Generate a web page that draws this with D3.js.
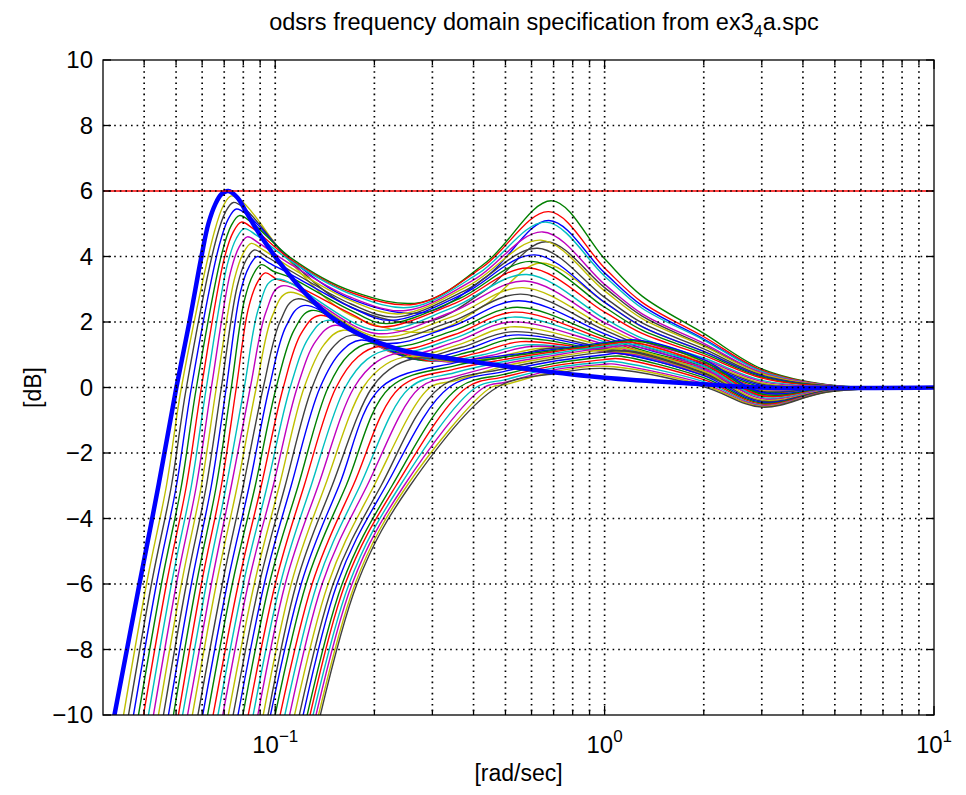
<!DOCTYPE html>
<html><head><meta charset="utf-8">
<script src="https://cdn.jsdelivr.net/npm/d3@7"></script>
<style>
body{margin:0;background:#fff;}
text{font-family:"Liberation Sans",Arial,Helvetica,sans-serif;fill:#000;}
</style>
</head><body>
<svg id="chart" width="966" height="795"></svg>
<script>
// ---------------- data ----------------
const titleMain = "odsrs frequency domain specification from ex3";
const titleSub = "4";
const titleTail = "a.spc";
const xLabel = "[rad/sec]";
const yLabel = "[dB]";
const xDomain = [0.03, 10];
const yDomain = [-10, 10];
const yTicks = [-10, -8, -6, -4, -2, 0, 2, 4, 6, 8, 10];
const xMajorTicks = [0.1, 1, 10];
const xMajorExp = ["\u22121", "0", "1"];
const xMinorTicks = [0.04,0.05,0.06,0.07,0.08,0.09,0.2,0.3,0.4,0.5,0.6,0.7,0.8,0.9,2,3,4,5,6,7,8,9];
const specLimit = 6;
const colorOrder = ["#0000ff","#008000","#ff0000","#00bfbf","#bf00bf","#bfbf00","#404040"];

// thick blue curve [rad/s, dB]
const thickCurve = [[0.0273,-14],[0.0325,-10],[0.0387,-6],[0.0442,-3],[0.0501,0],[0.05488,2],[0.0597,4],[0.06266,5.0],[0.0658,5.6],[0.06861,5.9],[0.072,6],[0.07671,5.8],[0.08225,5.3],[0.09069,4.6],[0.1043,3.75],[0.1241,2.85],[0.1478,2.15],[0.1822,1.6],[0.2409,1.15],[0.3184,0.93],[0.597,0.55],[1.0,0.3],[2.0,0.1],[3.0,0.0],[10,0]];

// curves with a low-frequency peak and a large mid bump
const groupA = [
[[0.0297,-14],[0.04066,-6],[0.04674,-3],[0.0519,0],[0.06533,4.75],[0.06957,5.55],[0.07357,5.85],[0.07999,5.65],[0.1118,3.8],[0.1699,2.2],[0.297,1.7],[0.436,2.54],[0.64,3.8],[1.0,2.6],[1.3,1.85],[2.0,1.1],[3.0,0.38],[4.8,0.05],[10,0]],
[[0.03076,-14],[0.04209,-6],[0.0484,-3],[0.05374,0],[0.06626,4.55],[0.07055,5.35],[0.0746,5.65],[0.08111,5.45],[0.1118,3.85],[0.1699,2.45],[0.2868,2.0],[0.436,2.98],[0.6628,4.45],[1.0,3.05],[1.3,2.18],[2.0,1.29],[3.0,0.44],[4.8,0.06],[10,0]],
[[0.03184,-14],[0.04359,-6],[0.05012,-3],[0.05565,0],[0.06766,4.35],[0.07204,5.15],[0.07618,5.45],[0.08283,5.25],[0.1118,3.9],[0.1699,2.7],[0.2868,2.3],[0.4421,3.42],[0.6768,5.1],[1.0,3.5],[1.3,2.5],[2.0,1.48],[3.0,0.51],[4.8,0.07],[10,0]],
[[0.03298,-14],[0.04513,-6],[0.0519,-3],[0.05763,0],[0.06909,4.15],[0.07357,4.95],[0.07779,5.25],[0.08458,5.05],[0.1118,3.95],[0.1699,2.95],[0.277,2.6],[0.4391,3.84],[0.6911,5.7],[1.0,3.93],[1.3,2.79],[2.0,1.65],[3.0,0.57],[4.8,0.08],[10,0]],
[[0.03415,-14],[0.04674,-6],[0.05374,-3],[0.05967,0],[0.07006,3.95],[0.0746,4.75],[0.07888,5.05],[0.08577,4.85],[0.1118,3.9],[0.1699,2.9],[0.2674,2.55],[0.4269,3.68],[0.6768,5.37],[1.0,3.65],[1.3,2.6],[2.0,1.55],[3.0,0.53],[4.8,0.07],[10,0]],
[[0.03535,-14],[0.0484,-6],[0.05565,-3],[0.06179,0],[0.07154,3.75],[0.07618,4.55],[0.08055,4.85],[0.08758,4.65],[0.1118,3.85],[0.1699,2.85],[0.2583,2.45],[0.4152,3.49],[0.6628,5.05],[1.0,3.4],[1.3,2.42],[2.0,1.45],[3.0,0.49],[4.8,0.06],[10,0]],
[[0.03661,-14],[0.05012,-6],[0.05763,-3],[0.06398,0],[0.07306,3.5],[0.07779,4.3],[0.08225,4.6],[0.08943,4.4],[0.1118,3.75],[0.1699,2.75],[0.2494,2.35],[0.4038,3.31],[0.649,4.75],[1.0,3.15],[1.3,2.25],[2.0,1.35],[3.0,0.45],[4.8,0.06],[10,0]],
[[0.03791,-14],[0.0519,-6],[0.05967,-3],[0.06626,0],[0.07513,3.3],[0.07999,4.1],[0.08458,4.4],[0.09196,4.2],[0.1118,3.65],[0.1699,2.65],[0.2409,2.25],[0.3926,3.15],[0.64,4.5],[1.0,2.95],[1.3,2.1],[2.0,1.26],[3.0,0.42],[4.8,0.05],[10,0]],
[[0.03926,-14],[0.05374,-6],[0.06179,-3],[0.06861,0],[0.07671,3.1],[0.08168,3.9],[0.08637,4.2],[0.09391,4.0],[0.1118,3.55],[0.1699,2.55],[0.2326,2.15],[0.3818,2.99],[0.6268,4.25],[1.0,2.75],[1.3,1.97],[2.0,1.18],[3.0,0.38],[4.8,0.05],[10,0]],
[[0.04066,-14],[0.05565,-6],[0.06398,-3],[0.07104,0],[0.07833,2.9],[0.08341,3.7],[0.08819,4.0],[0.0959,3.8],[0.1118,3.45],[0.1699,2.45],[0.2246,2.05],[0.3713,2.85],[0.6138,4.05],[1.0,2.6],[1.3,1.86],[2.0,1.1],[3.0,0.35],[4.8,0.04],[10,0]],
[[0.04209,-14],[0.05763,-6],[0.06626,-3],[0.07357,0],[0.08055,2.65],[0.08577,3.45],[0.09069,3.75],[0.09861,3.55],[0.1118,3.35],[0.1699,2.35],[0.2169,1.95],[0.3611,2.71],[0.6011,3.85],[1.0,2.45],[1.3,1.75],[2.0,1.04],[3.0,0.32],[4.8,0.04],[10,0]],
[[0.04359,-14],[0.05967,-6],[0.06861,-3],[0.07618,0],[0.08283,2.4],[0.08819,3.2],[0.09326,3.5],[0.1014,3.3],[0.1118,3.18],[0.1699,2.25],[0.2095,1.85],[0.3511,2.57],[0.5886,3.65],[1.0,2.3],[1.3,1.65],[2.0,0.98],[3.0,0.29],[4.8,0.03],[10,0]]
];

// curves with a rounded low peak and a smaller mid bump
const groupB = [
[[0.0445,-14],[0.06179,-6],[0.07104,-3],[0.08055,0],[0.08943,2.48],[0.0993,3.3],[0.2023,1.75],[0.3439,2.43],[0.5804,3.45],[1.0,2.1],[1.3,1.5],[2.0,0.9],[3.0,0.22],[4.8,0.02],[10,0]],
[[0.04609,-14],[0.06398,-6],[0.07357,-3],[0.08399,0],[0.09391,2.33],[0.1043,3.1],[0.2023,1.65],[0.3415,2.29],[0.5724,3.25],[1.0,1.98],[1.3,1.42],[2.0,0.85],[3.0,0.18],[4.8,0.02],[10,0]],
[[0.04773,-14],[0.06626,-6],[0.07671,-3],[0.08758,0],[0.09792,2.18],[0.1095,2.9],[0.2051,1.55],[0.3415,2.15],[0.5644,3.05],[1.0,1.86],[1.3,1.34],[2.0,0.8],[3.0,0.14],[4.8,0.01],[10,0]],
[[0.04943,-14],[0.06909,-6],[0.07999,-3],[0.09196,0],[0.1036,2.03],[0.1158,2.7],[0.2095,1.45],[0.3415,2.01],[0.5566,2.85],[1.0,1.75],[1.3,1.27],[2.0,0.75],[3.0,0.1],[4.8,0],[10,0]],
[[0.05118,-14],[0.07154,-6],[0.08341,-3],[0.0959,0],[0.108,1.88],[0.1216,2.5],[0.2139,1.35],[0.3439,1.87],[0.549,2.65],[1.0,1.64],[1.3,1.2],[2.0,0.7],[3.0,0.06],[4.8,0],[10,0]],
[[0.053,-14],[0.07408,-6],[0.08697,-3],[0.1007,0],[0.1142,1.76],[0.1285,2.35],[0.22,1.25],[0.3463,1.73],[0.5414,2.45],[1.0,1.54],[1.3,1.14],[2.0,0.65],[3.0,0.02],[4.8,0],[10,0]],
[[0.05488,-14],[0.07725,-6],[0.09069,-3],[0.1058,0],[0.1199,1.65],[0.1359,2.2],[0.2262,1.15],[0.3487,1.61],[0.5338,2.3],[1.0,1.46],[1.3,1.09],[2.0,0.6],[3.0,-0.02],[4.8,-0.01],[10,0]],
[[0.05683,-14],[0.07999,-6],[0.09457,-3],[0.111,0],[0.1267,1.54],[0.1437,2.05],[0.2326,1.08],[0.3511,1.51],[0.5264,2.15],[1.0,1.39],[1.3,1.05],[2.0,0.56],[3.0,-0.05],[4.8,-0.01],[10,0]],
[[0.05884,-14],[0.08283,-6],[0.09861,-3],[0.1166,0],[0.1331,1.43],[0.1519,1.9],[0.2409,1.0],[0.3536,1.4],[0.5191,2.0],[1.0,1.32],[1.3,1.01],[2.0,0.52],[3.0,-0.08],[4.8,-0.02],[10,0]],
[[0.06093,-14],[0.08637,-6],[0.1029,-3],[0.1224,0],[0.1407,1.31],[0.1607,1.75],[0.2494,0.95],[0.3611,1.31],[0.5191,1.85],[1.0,1.26],[1.3,0.98],[2.0,0.48],[3.0,-0.1],[4.8,-0.02],[10,0]],
[[0.06309,-14],[0.08943,-6],[0.1072,-3],[0.1294,0],[0.1488,1.2],[0.1711,1.6],[0.2583,0.9],[0.3662,1.22],[0.5191,1.7],[1.0,1.2],[1.3,0.95],[2.0,0.44],[3.0,-0.12],[4.8,-0.02],[10,0]],
[[0.06533,-14],[0.09261,-6],[0.1118,-3],[0.1368,0],[0.1585,1.09],[0.1822,1.45],[0.2693,0.85],[0.3765,1.15],[0.5264,1.6],[1.0,1.16],[1.3,0.93],[2.0,0.41],[3.0,-0.14],[4.8,-0.03],[10,0]],
[[0.06766,-14],[0.0959,-6],[0.1174,-3],[0.1447,0],[0.1675,1.01],[0.194,1.35],[0.2809,0.82],[0.3898,1.09],[0.5376,1.5],[1.0,1.12],[1.3,0.92],[2.0,0.39],[3.0,-0.16],[4.8,-0.03],[10,0]],
[[0.07006,-14],[0.1,-6],[0.1224,-3],[0.153,0],[0.1784,0.94],[0.2066,1.25],[0.297,0.8],[0.4066,1.04],[0.5566,1.4],[1.0,1.1],[1.3,0.92],[2.0,0.38],[3.0,-0.18],[4.8,-0.03],[10,0]],
[[0.07254,-14],[0.1036,-6],[0.1285,-3],[0.163,0],[0.19,0.86],[0.2215,1.15],[0.314,0.8],[0.4269,1.0],[0.5764,1.3],[1.0,1.1],[1.3,0.94],[2.0,0.38],[3.0,-0.2],[4.8,-0.03],[10,0]],
[[0.07513,-14],[0.1072,-6],[0.135,-3],[0.1735,0],[0.2037,0.79],[0.2376,1.05],[0.3343,0.78],[0.4484,0.97],[0.5969,1.25],[1.0,1.1],[1.3,0.97],[2.0,0.4],[3.0,-0.22],[4.8,-0.04],[10,0]],
[[0.07779,-14],[0.1118,-6],[0.1417,-3],[0.1848,0],[0.2169,0.71],[0.2547,0.95],[0.3561,0.78],[0.4774,0.95],[0.64,1.2],[1.0,1.12],[1.3,1.0],[2.0,0.42],[3.0,-0.24],[4.8,-0.04],[10,0]],
[[0.08055,-14],[0.1158,-6],[0.1488,-3],[0.1968,0],[0.2326,0.68],[0.2732,0.9],[0.3791,0.78],[0.5119,0.95],[0.6863,1.2],[1.0,1.15],[1.3,1.05],[2.0,0.45],[3.0,-0.26],[4.8,-0.04],[10,0]]
];

// slowly rising curves with a broad hump near 1 rad/s and a dip near 3 rad/s
const groupC = [
[[0.08055,-14],[0.1199,-6],[0.1562,-3],[0.2095,0],[0.35,0.75],[0.5,0.98],[0.7,1.16],[1.0,1.37],[1.25,1.45],[2.0,0.85],[3.0,-0.15],[4.8,-0.03],[10,0]],
[[0.08341,-14],[0.1241,-6],[0.1641,-3],[0.223,0],[0.35,0.66],[0.5,0.93],[0.7,1.13],[1.0,1.34],[1.25,1.42],[2.0,0.8],[3.0,-0.2],[4.8,-0.04],[10,0]],
[[0.08577,-14],[0.1294,-6],[0.1723,-3],[0.2392,0],[0.35,0.56],[0.5,0.86],[0.7,1.09],[1.0,1.3],[1.2,1.38],[2.0,0.72],[3.0,-0.25],[4.8,-0.05],[10,0]],
[[0.08881,-14],[0.134,-6],[0.1809,-3],[0.2565,0],[0.35,0.45],[0.5,0.8],[0.7,1.04],[1.0,1.26],[1.2,1.33],[2.0,0.65],[3.0,-0.3],[4.8,-0.06],[10,0]],
[[0.09196,-14],[0.1388,-6],[0.19,-3],[0.2751,0],[0.35,0.33],[0.5,0.73],[0.7,0.98],[1.0,1.21],[1.2,1.27],[2.0,0.58],[3.0,-0.34],[4.8,-0.07],[10,0]],
[[0.09457,-14],[0.1447,-6],[0.1995,-3],[0.2949,0],[0.35,0.2],[0.5,0.66],[0.7,0.93],[1.0,1.15],[1.15,1.2],[2.0,0.5],[3.0,-0.38],[4.8,-0.08],[10,0]],
[[0.09792,-14],[0.1499,-6],[0.2095,-3],[0.3162,0],[0.5,0.58],[0.7,0.87],[1.0,1.08],[1.15,1.12],[2.0,0.43],[3.0,-0.42],[4.8,-0.09],[10,0]],
[[0.1007,-14],[0.1541,-6],[0.2169,-3],[0.3367,0],[0.5,0.5],[0.7,0.8],[1.0,1.0],[1.1,1.04],[2.0,0.36],[3.0,-0.45],[4.8,-0.1],[10,0]],
[[0.1029,-14],[0.1596,-6],[0.2262,-3],[0.3611,0],[0.5,0.41],[0.7,0.73],[1.0,0.93],[1.1,0.96],[2.0,0.3],[3.0,-0.48],[4.8,-0.1],[10,0]],
[[0.105,-14],[0.163,-6],[0.2326,-3],[0.3818,0],[0.5,0.33],[0.7,0.66],[1.0,0.85],[1.1,0.88],[2.0,0.24],[3.0,-0.51],[4.8,-0.11],[10,0]],
[[0.1065,-14],[0.1675,-6],[0.2392,-3],[0.4066,0],[0.5,0.24],[0.7,0.6],[1.0,0.78],[1.05,0.8],[2.0,0.18],[3.0,-0.54],[4.8,-0.12],[10,0]],
[[0.1088,-14],[0.1711,-6],[0.246,-3],[0.4299,0],[0.5,0.16],[0.7,0.54],[1.0,0.71],[1.05,0.72],[2.0,0.12],[3.0,-0.56],[4.8,-0.12],[10,0]],
[[0.1103,-14],[0.1747,-6],[0.2511,-3],[0.4515,0],[0.5,0.09],[0.7,0.48],[1.0,0.65],[2.0,0.07],[3.0,-0.58],[4.8,-0.13],[10,0]],
[[0.1118,-14],[0.1771,-6],[0.2565,-3],[0.4708,0],[0.7,0.42],[1.0,0.58],[2.0,0.02],[3.0,-0.6],[4.8,-0.13],[10,0]]
];

// ---------------- drawing ----------------
const L = 103, R = 934, T = 60, B = 715;
const svg = d3.select("#chart");
const x = d3.scaleLog().domain(xDomain).range([L, R]);
const y = d3.scaleLinear().domain(yDomain).range([B, T]);

svg.append("rect").attr("x",0).attr("y",0).attr("width",966).attr("height",795).attr("fill","#fff");
svg.append("defs").append("clipPath").attr("id","plotclip")
  .append("rect").attr("x",L).attr("y",T).attr("width",R-L).attr("height",B-T);

const line = d3.line().x(d => x(d[0])).y(d => y(d[1])).curve(d3.curveCatmullRom.alpha(0.5));
const plot = svg.append("g").attr("clip-path","url(#plotclip)");

const thinCurves = groupA.concat(groupB, groupC);
plot.selectAll("path.thin").data(thinCurves).enter().append("path")
  .attr("class","thin")
  .attr("d", d => line(d))
  .attr("fill","none")
  .attr("stroke", (d,i) => colorOrder[(i+5) % 7])
  .attr("stroke-width", 1.4);

plot.append("path").attr("d", line(thickCurve))
  .attr("fill","none").attr("stroke","#0000ff").attr("stroke-width",4.5)
  .attr("stroke-linejoin","round");

// grid (dotted)
const grid = svg.append("g").attr("stroke","#000").attr("stroke-width",1.7)
  .attr("stroke-dasharray","1.6,4").attr("fill","none");
xMinorTicks.concat([0.1, 1]).forEach(v => {
  grid.append("line").attr("x1",x(v)).attr("x2",x(v)).attr("y1",T).attr("y2",B);
});
yTicks.filter(v => v > yDomain[0] && v < yDomain[1]).forEach(v => {
  grid.append("line").attr("x1",L).attr("x2",R).attr("y1",y(v)).attr("y2",y(v));
});

// spec limit
plot.append("line").attr("x1",L).attr("x2",R).attr("y1",y(specLimit)).attr("y2",y(specLimit))
  .attr("stroke","#ff0000").attr("stroke-width",1.7);

// frame + ticks
const ax = svg.append("g").attr("stroke","#000").attr("stroke-width",1.3).attr("fill","none");
ax.append("rect").attr("x",L).attr("y",T).attr("width",R-L).attr("height",B-T);
yTicks.forEach(v => {
  ax.append("line").attr("x1",L).attr("x2",L+8).attr("y1",y(v)).attr("y2",y(v));
  ax.append("line").attr("x1",R).attr("x2",R-8).attr("y1",y(v)).attr("y2",y(v));
});
xMajorTicks.forEach(v => {
  ax.append("line").attr("x1",x(v)).attr("x2",x(v)).attr("y1",B).attr("y2",B-9);
  ax.append("line").attr("x1",x(v)).attr("x2",x(v)).attr("y1",T).attr("y2",T+9);
});
xMinorTicks.forEach(v => {
  ax.append("line").attr("x1",x(v)).attr("x2",x(v)).attr("y1",B).attr("y2",B-5);
  ax.append("line").attr("x1",x(v)).attr("x2",x(v)).attr("y1",T).attr("y2",T+5);
});

// tick labels
svg.selectAll("text.ytick").data(yTicks).enter().append("text")
  .attr("class","ytick")
  .attr("x", L-10).attr("y", d => y(d) + 8)
  .attr("text-anchor","end").attr("font-size",24)
  .text(d => d < 0 ? "\u2212" + Math.abs(d) : String(d));

xMajorTicks.forEach((v,i) => {
  const t = svg.append("text").attr("x", x(v)).attr("y", 753)
    .attr("text-anchor","middle").attr("font-size",24);
  t.append("tspan").text("10");
  t.append("tspan").attr("dy",-11).attr("font-size",17).text(xMajorExp[i]);
});

// labels
const title = svg.append("text").attr("x", 544).attr("y", 30)
  .attr("text-anchor","middle").attr("font-size",23.5);
title.append("tspan").text(titleMain);
title.append("tspan").attr("dy",7).attr("font-size",16).text(titleSub);
title.append("tspan").attr("dy",-7).text(titleTail);

svg.append("text").attr("x", (L+R)/2).attr("y", 781)
  .attr("text-anchor","middle").attr("font-size",23).text(xLabel);

svg.append("text").attr("transform", `translate(41,${(T+B)/2}) rotate(-90)`)
  .attr("text-anchor","middle").attr("font-size",23).text(yLabel);
</script>
</body></html>
